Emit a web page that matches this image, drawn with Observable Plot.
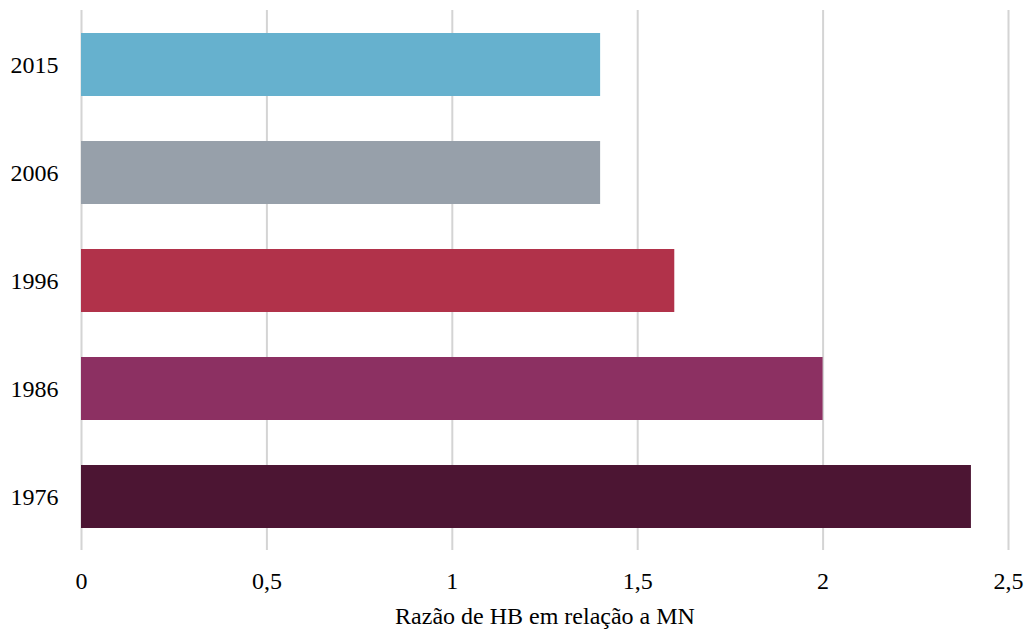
<!DOCTYPE html>
<html>
<head>
<meta charset="utf-8">
<script src="https://cdn.jsdelivr.net/npm/d3@7"></script>
<script src="https://cdn.jsdelivr.net/npm/@observablehq/plot@0.6"></script>
<style>
  html, body { margin: 0; padding: 0; background: #fff; }
  #chart svg { display: block; }
  #chart svg text { font-family: "Liberation Serif", "Times New Roman", serif; }
</style>
</head>
<body>
<div id="chart"></div>
<script>
// Razão de HB em relação a MN, por ano
const years = ["2015", "2006", "1996", "1986", "1976"];
const ratios = [1.4, 1.4, 1.6, 2.0, 2.4];
const xTicks = [0, 0.5, 1, 1.5, 2, 2.5];
const palette = ["#66b1ce", "#97a0aa", "#b1324a", "#8c3062", "#4c1533"];

const data = years.map((year, i) => ({year, ratio: ratios[i]}));
const fmt = d => String(d).replace(".", ",");

const chart = Plot.plot({
  width: 1030,
  height: 632,
  marginLeft: 81,
  marginRight: 22,
  marginTop: 10,
  marginBottom: 82,
  style: {fontFamily: "'Liberation Serif', 'Times New Roman', serif", fontSize: "24px", color: "#000"},
  x: {domain: [0, 2.5]},
  y: {domain: years, paddingInner: 0.418, paddingOuter: 0.2},
  color: {type: "ordinal", domain: years, range: palette},
  marks: [
    Plot.gridX(xTicks, {stroke: "#d4d4d4", strokeOpacity: 1, strokeWidth: 2}),
    Plot.barX(data, {x1: 0, x2: "ratio", y: "year", fill: "year"}),
    Plot.axisY({tickSize: 0, tickPadding: 23, label: null, fill: "#000"}),
    Plot.axisX({
      ticks: xTicks,
      tickFormat: fmt,
      tickSize: 0,
      tickPadding: 21,
      label: "Razão de HB em relação a MN",
      labelAnchor: "center",
      labelArrow: "none",
      labelOffset: 73,
      fill: "#000"
    })
  ]
});

document.getElementById("chart").append(chart);
</script>
</body>
</html>
